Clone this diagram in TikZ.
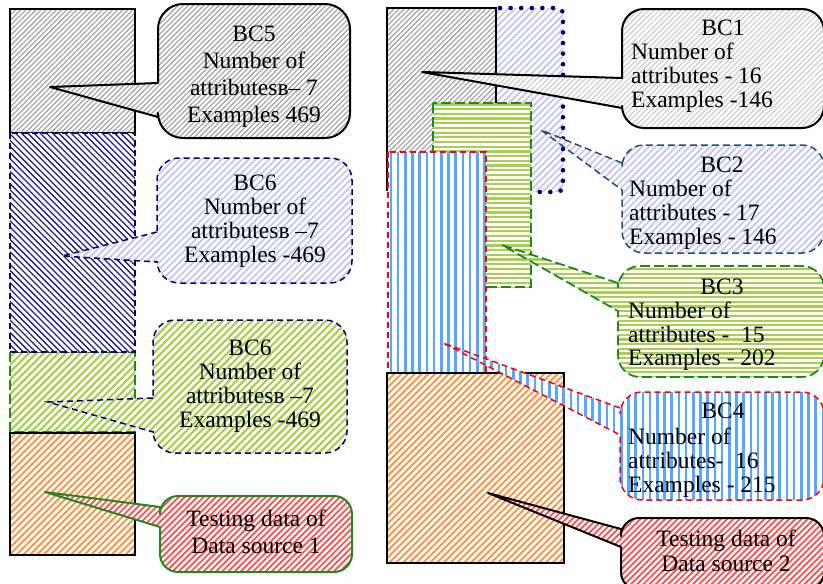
\documentclass[tikz,border=0pt]{standalone}
\usepackage{fontspec}
\setmainfont{Liberation Serif}

\definecolor{hatchgray}{HTML}{ABABAB}
\definecolor{paleline}{HTML}{CFCFCF}
\definecolor{navyline}{HTML}{20208F}
\definecolor{lavline}{HTML}{C6C6F2}
\definecolor{limeline}{HTML}{A8D04C}
\definecolor{orangeline}{HTML}{F7994A}
\definecolor{redline}{HTML}{F55A5A}
\definecolor{skyline}{HTML}{55A8FF}
\definecolor{darkgreen}{HTML}{1E8A1E}
\definecolor{navyedge}{HTML}{000080}
\definecolor{slateedge}{HTML}{1F4E79}

% rounded speech bubble: style, left, top, right, bottom, radius,
% upper pointer base, tip, lower pointer base (y grows downwards)
\newcommand\bubble[9]{%
  \path[#1] (#2,#7) -- (#8) -- (#2,#9) -- (#2,#5-#6)
    arc[start angle=180,end angle=90,radius=#6] -- (#4-#6,#5)
    arc[start angle=90,end angle=0,radius=#6] -- (#4,#3+#6)
    arc[start angle=0,end angle=-90,radius=#6] -- (#2+#6,#3)
    arc[start angle=-90,end angle=-180,radius=#6] -- cycle;}

\tikzset{
  stripe/.style={solid, line cap=butt},
  % hatchings on a white ground: step along the x (or y) axis, line width, colour
  diagup/.style n args={3}{preaction={fill=white},
    path picture={\foreach \c in {0,#1,...,1460}
      \draw[stripe, #3, line width=#2pt] (\c+10,-10) -- (\c-610,610);}},
  diagdown/.style n args={3}{preaction={fill=white},
    path picture={\foreach \c in {0,#1,...,1460}
      \draw[stripe, #3, line width=#2pt] (\c-630,-10) -- (\c-10,610);}},
  vbars/.style n args={3}{preaction={fill=white},
    path picture={\foreach \c in {0,#1,...,840}
      \draw[stripe, #3, line width=#2pt] (\c+2,-10) -- (\c+2,600);}},
  hbars/.style n args={3}{preaction={fill=white},
    path picture={\foreach \c in {0,#1,...,600}
      \draw[stripe, #3, line width=#2pt] (-10,\c+1) -- (840,\c+1);}},
  grayfill/.style={diagup={5.1}{1.3}{hatchgray}},
  palegrayfill/.style={diagup={5.4}{1.2}{paleline}},
  navyfill/.style={diagdown={6.2}{1.3}{navyline}},
  lavfill/.style={diagup={6.8}{1.8}{lavline}},
  limefill/.style={diagup={7.35}{2.2}{limeline}},
  orangefill/.style={diagup={6.8}{2}{orangeline}},
  redfill/.style={diagup={6.2}{1.9}{redline}},
  skyfill/.style={vbars={7.2}{2.6}{skyline}},
  barfill/.style={hbars={4.7}{2.2}{limeline}},
  solidedge/.style={draw=black, line width=1.4pt},
  bubblesolid/.style={draw=black, line width=2pt, line join=round},
  greensolid/.style={draw=darkgreen, line width=2pt, line join=round},
  navydash/.style={draw=navyedge, line width=1.5pt, dash pattern=on 6pt off 4pt},
  greendash/.style={draw=darkgreen, line width=1.8pt, dash pattern=on 10pt off 4pt},
  reddash/.style={draw=red, line width=1.5pt, dash pattern=on 6pt off 4pt},
  slatedash/.style={draw=slateedge, line width=1.5pt, dash pattern=on 7pt off 4pt},
  dotedge/.style={draw=navyedge, line width=4.6pt, dash pattern=on 0pt off 10.6pt, line cap=round},
  txt/.style={inner sep=0pt, anchor=north, align=center},
  body/.style={inner sep=0pt, anchor=north west, align=left},
}

\begin{document}
\begin{tikzpicture}[x=1pt, y=-1pt]
\useasboundingbox (0,0) rectangle (823,584);

% ---- data source 1 column ----
\path[grayfill, solidedge] (10,9) rectangle (135,133);
\path[limefill, greendash] (10,352) rectangle (135,432);
\path[orangefill, solidedge] (10,433) rectangle (135,555);
\path[navyfill, navydash] (10,133) rectangle (135,352);

% ---- data source 2 column ----
\path[lavfill, rounded corners=6pt] (440,8) rectangle (563,192);
\draw[dotedge, rounded corners=6pt] (500,8) -- (563,8) -- (563,192) -- (534,192);
\path[grayfill, solidedge] (387,8) rectangle (496,190);
\path[barfill, greendash] (433,103) rectangle (531,287);
\path[skyfill, reddash] (388,152) rectangle (486,373);
\path[orangefill, solidedge] (387,373) rectangle (564,563);

% ---- bubbles, left ----
\bubble{grayfill, bubblesolid}{158}{4}{350}{138}{25}{83}{50,87}{117}
\bubble{lavfill, navydash}{157}{158}{352}{283}{22}{232}{62,256}{262}
\bubble{limefill, navydash}{153}{320}{347}{453}{22}{398}{48,402}{432}
\bubble{redfill, greensolid}{160}{496}{352}{572}{18}{507}{45,492}{527}

% ---- bubbles, right ----
\bubble{palegrayfill, bubblesolid}{622}{9}{824}{128}{22}{78}{422,72}{108}
\bubble{lavfill, slatedash}{622}{145}{824}{253}{22}{163}{541,130}{190}
\bubble{barfill, greendash}{618}{266}{824}{377}{22}{283}{502,245}{311}
\bubble{skyfill, reddash}{620}{392}{824}{500}{22}{408}{443,343}{435}
\bubble{redfill, bubblesolid}{621}{518}{824}{590}{18}{529}{488,493}{547}

% ---- texts, left ----
\node[txt, font=\fontsize{23.5}{27}\selectfont] (bcfive) at (254,26)
  {BC5\\Number of\\attributesв– 7\\Examples 469};
\node[txt, font=\fontsize{23.5}{24}\selectfont] (bcsixa) at (255,175)
  {BC6\\Number of\\attributesв –7\\Examples -469};
\node[txt, font=\fontsize{23.5}{24}\selectfont] (bcsixb) at (250,340)
  {BC6\\Number of\\attributesв –7\\Examples -469};
\node[txt, font=\fontsize{23.5}{27}\selectfont] (testone) at (256,510)
  {Testing data of\\Data source 1};

% ---- texts, right ----
\node[txt, font=\fontsize{23.5}{24}\selectfont] (bconeh) at (723,20) {BC1};
\node[body, font=\fontsize{23.5}{24}\selectfont] (bconeb) at (631,43)
  {Number of\\attributes - 16\\Examples -146};
\node[txt, font=\fontsize{23.5}{24}\selectfont] (bctwoh) at (722,157) {BC2};
\node[body, font=\fontsize{23.5}{24}\selectfont] (bctwob) at (629,180)
  {Number of\\attributes - 17\\Examples - 146};
\node[txt, font=\fontsize{23.5}{24}\selectfont] (bcthreeh) at (722,279) {BC3};
\node[body, font=\fontsize{23.5}{23.5}\selectfont] (bcthreeb) at (628,302)
  {Number of\\attributes -\ \ 15\\Examples - 202};
\node[txt, font=\fontsize{23.5}{24}\selectfont] (bcfourh) at (723,403) {BC4};
\node[body, font=\fontsize{23.5}{24}\selectfont] (bcfourb) at (628,428)
  {Number of\\attributes-\ \ 16\\Examples - 215};
\node[txt, font=\fontsize{23.5}{25}\selectfont] (testtwo) at (726,530)
  {Testing data of\\Data source 2};
\end{tikzpicture}
\end{document}
